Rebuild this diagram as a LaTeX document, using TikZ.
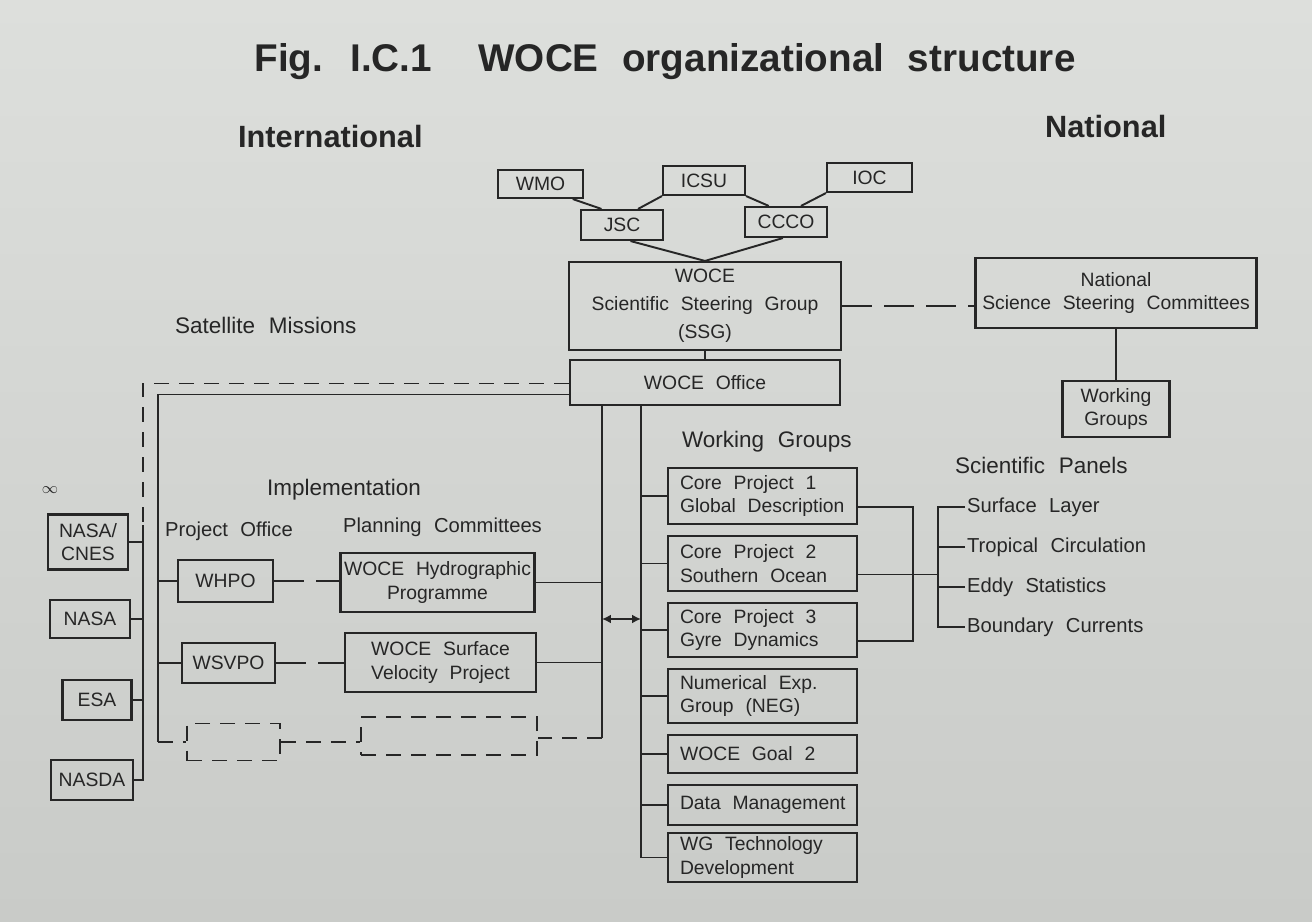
\documentclass[tikz,border=0pt]{standalone}
\usepackage{fontspec}
\setmainfont[WordSpace=2.2]{Liberation Sans}
\usetikzlibrary{arrows.meta,positioning}
\definecolor{ink}{HTML}{262626}
\definecolor{papertop}{HTML}{DDDFDC}
\definecolor{paperbot}{HTML}{C9CBC8}
\newcommand{\wgl}[1]{\makebox[3.3cm][l]{#1}}

\begin{document}
\begin{tikzpicture}[x=0.02cm, y=-0.02cm,
    box/.style={draw=ink, line width=1.2pt, text=ink, align=center, inner sep=2pt, font=\fontsize{11}{13.5}\selectfont},
    wgbox/.style={box, minimum width=3.78cm},
    ghost/.style={draw=ink, line width=1.1pt, dash pattern=on 0.3cm off 0.2cm},
    head/.style={text=ink, inner sep=1pt, font=\fontsize{12.8}{15}\selectfont},
    subhead/.style={text=ink, inner sep=1pt, font=\fontsize{11.5}{14}\selectfont},
    link/.style={draw=ink, line width=1.1pt},
    dlink/.style={link, dash pattern=on 0.3cm off 0.2cm},
    ldlink/.style={link, dash pattern=on 0.6cm off 0.24cm}
  ]
    \shade[top color=papertop, bottom color=paperbot] (0,0) rectangle (1312,922);
    \useasboundingbox (0,0) rectangle (1312,922);

    % titles
    \node[text=ink, font=\fontsize{22}{26}\selectfont\bfseries] (title) at (665,62) {Fig. I.C.1\hspace{1.2em}WOCE organizational structure};
    \node[anchor=west, text=ink, inner sep=1pt, font=\fontsize{17.5}{20}\selectfont\bfseries] (intl) at (236,137) {International};
    \node[anchor=west, text=ink, inner sep=1pt, font=\fontsize{17.5}{20}\selectfont\bfseries] (natl) at (1043,127) {National};

    % top of the structure
    \node[box, minimum width=1.70cm, minimum height=0.56cm] (wmo) at (540.5,184) {WMO};
    \node[box, minimum width=1.64cm, minimum height=0.58cm] (icsu) at (704,180.5) {ICSU};
    \node[box, minimum width=1.70cm, minimum height=0.58cm] (ioc) at (869.5,177.5) {IOC};
    \node[box, minimum width=1.64cm, minimum height=0.60cm] (jsc) at (622,225) {JSC};
    \node[box, minimum width=1.64cm, minimum height=0.60cm] (ccco) at (786,222) {CCCO};
    \node[box, minimum width=5.44cm, minimum height=1.76cm, font=\fontsize{11}{16}\selectfont] (ssg) at (705,306) {WOCE\\Scientific Steering Group\\(SSG)};
    \node[box, minimum width=5.40cm, minimum height=0.90cm] (office) at (705,382.5) {WOCE Office};
    \node[box, minimum width=5.62cm, minimum height=1.40cm] (nssc) at (1116,293) {National\\Science Steering Committees};
    \node[box, minimum width=2.14cm, minimum height=1.12cm] (nwg) at (1116,409) {Working\\Groups};

    \foreach \a/\b in {wmo.-25/jsc.142, icsu.south west/jsc.45, icsu.south east/ccco.137,
        ioc.south west/ccco.47, jsc.-62/ssg.north, ccco.-101/ssg.north}
      \draw[link] (\a) -- (\b);
    \draw[link] (ssg.south) -- (office.north);
    \draw[ldlink] (ssg.east) -- (ssg.east -| nssc.west);
    \draw[link] (nssc.south) -- (nwg.north);

    % satellite missions
    \node[head, anchor=west] (satlabel) at (173,325) {Satellite Missions};
    \node[text=ink, font=\small] (infty) at (50,490) {$\infty$};
    \node[box, minimum width=1.60cm, minimum height=1.10cm] (cnes) at (88,542) {NASA/\\CNES};
    \node[box, minimum width=1.60cm, minimum height=0.76cm] (nasa) at (90,619) {NASA};
    \node[box, minimum width=1.38cm, minimum height=0.80cm] (esa) at (97,700) {ESA};
    \node[box, minimum width=1.64cm, minimum height=0.80cm] (nasda) at (92,780) {NASDA};
    \coordinate (satbus) at (143,525);
    \draw[dlink] ([yshift=-0.02cm]office.west) -| (satbus);
    \draw[link] (satbus) |- (nasda.east);
    \foreach \s in {cnes, nasa, esa}
      \draw[link] (\s.east) -- (\s.east -| satbus);

    % implementation
    \node[head, anchor=west] (impllabel) at (265,490) {Implementation};
    \node[subhead, anchor=west] (polabel) at (163,531) {Project Office};
    \node[subhead, anchor=west] (pclabel) at (341,527) {Planning Committees};
    \node[box, minimum width=1.90cm, minimum height=0.84cm] (whpo) at (225.5,581) {WHPO};
    \node[box, minimum width=1.86cm, minimum height=0.80cm] (wsvpo) at (228.5,663) {WSVPO};
    \node[box, minimum width=3.82cm, minimum height=1.18cm] (whp) at (437.5,582.5) {WOCE Hydrographic\\Programme};
    \node[box, minimum width=3.82cm, minimum height=1.18cm] (wsvp) at (440.5,662.5) {WOCE Surface\\Velocity Project};
    \node[ghost, minimum width=1.86cm, minimum height=0.74cm] (ghostA) at (233.5,742) {};
    \node[ghost, minimum width=3.52cm, minimum height=0.76cm] (ghostB) at (449,736) {};

    \coordinate (implbus) at (158,742);
    \coordinate (planbus) at (602,738);
    \draw[link] ([yshift=-0.24cm]office.west) -| (implbus);
    \draw[dlink] (implbus) -- (ghostA.west);
    \draw[dlink] (ghostA.east) -- (ghostA.east -| ghostB.west);
    \foreach \s in {whpo, wsvpo}
      \draw[link] (\s.west -| implbus) -- (\s.west);
    \draw[ldlink] (whpo.east) -- (whpo.east -| whp.west);
    \draw[ldlink] (wsvpo.east) -- (wsvpo.east -| wsvp.west);
    \draw[link] (office.south -| planbus) -- (planbus);
    \draw[dlink] (planbus) -- (planbus -| ghostB.east);
    \foreach \s in {whp, wsvp}
      \draw[link] (\s.east) -- (\s.east -| planbus);

    % working groups
    \node[head, anchor=west] (wglabel) at (680,442) {Working Groups};
    \node[wgbox, minimum height=1.12cm] (cp1) at (762.5,496) {\wgl{Core Project 1}\\\wgl{Global Description}};
    \node[wgbox, minimum height=1.10cm] (cp2) at (762.5,563.5) {\wgl{Core Project 2}\\\wgl{Southern Ocean}};
    \node[wgbox, minimum height=1.08cm] (cp3) at (762.5,630) {\wgl{Core Project 3}\\\wgl{Gyre Dynamics}};
    \node[wgbox, minimum height=1.08cm] (neg) at (762.5,696) {\wgl{Numerical Exp.}\\\wgl{Group (NEG)}};
    \node[wgbox, minimum height=0.76cm] (goal) at (762.5,754) {\wgl{WOCE Goal 2}};
    \node[wgbox, minimum height=0.80cm] (data) at (762.5,805) {\wgl{Data Management}};
    \node[wgbox, minimum height=0.98cm] (tech) at (762.5,857.5) {\wgl{WG Technology}\\\wgl{Development}};

    \coordinate (wgbus) at (641,500);
    \draw[link] (office.south -| wgbus) |- (tech.west);
    \foreach \s in {cp1, cp2, cp3, neg, goal, data}
      \draw[link] (\s.west -| wgbus) -- (\s.west);
    \coordinate (arrL) at (602,619);
    \coordinate (arrR) at (641,619);
    \draw[link, {Latex[length=5pt,width=5pt]}-{Latex[length=5pt,width=5pt]}] (arrL) -- (arrR);

    % scientific panels
    \node[head, anchor=west] (splabel) at (953,465) {Scientific Panels};
    \node[subhead, anchor=west] (p1) at (965,507) {Surface Layer};
    \node[subhead, anchor=west] (p2) at (965,547) {Tropical Circulation};
    \node[subhead, anchor=west] (p3) at (965,587) {Eddy Statistics};
    \node[subhead, anchor=west] (p4) at (965,627) {Boundary Currents};
    \coordinate (pbus) at (938,575);
    \draw[link] (p1.west) -| (pbus) |- (p4.west);
    \foreach \p in {p2, p3}
      \draw[link] (\p.west) -- (\p.west -| pbus);
    \draw[link] ([yshift=-0.22cm]cp1.east) -- ++(55,0) |- ([yshift=-0.22cm]cp3.east);
    \draw[link] ([yshift=-0.22cm]cp2.east) -- ([yshift=-0.22cm]cp2.east -| pbus);
  \end{tikzpicture}
\end{document}
